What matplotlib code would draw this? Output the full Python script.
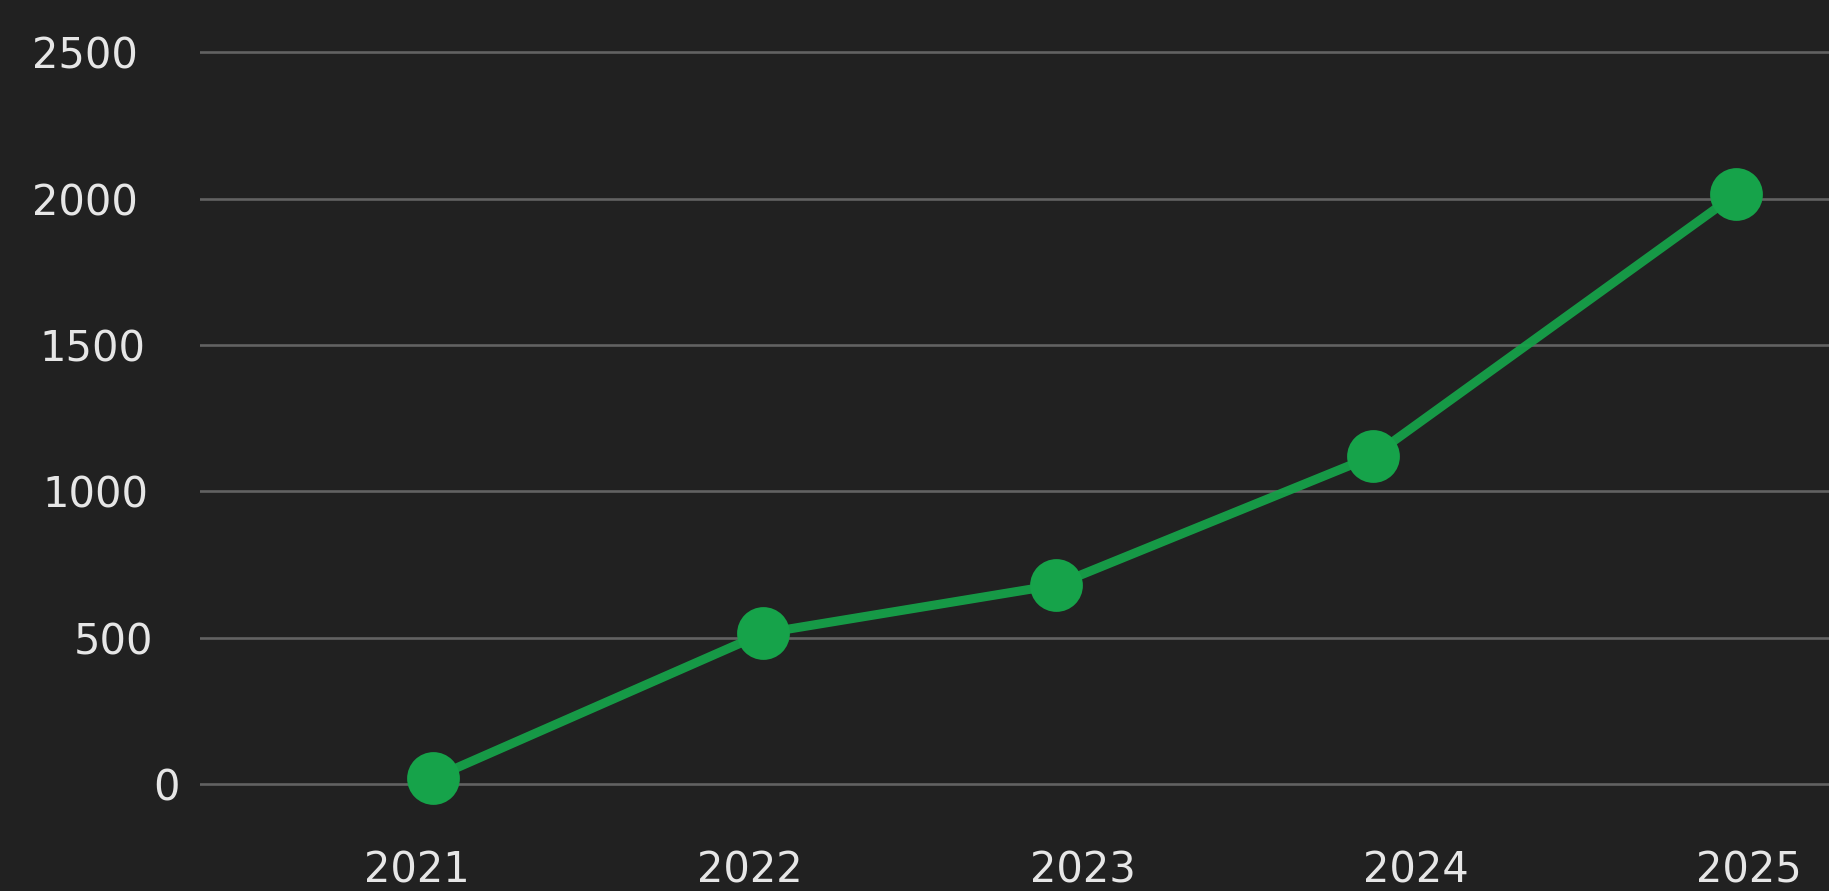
import matplotlib
matplotlib.use('Agg')
import matplotlib.pyplot as plt
from matplotlib.transforms import ScaledTranslation

# data
years = [2021, 2022, 2023, 2024, 2025]
year_labels = ['2021', '2022', '2023', '2024', '2025']
point_x = [2021.05, 2022.04, 2022.92, 2023.87, 2024.96]
values = [20, 515, 680, 1120, 2015]
y_ticks = [0, 500, 1000, 1500, 2000, 2500]
y_labels = ['0', '500', '1000', '1500', '2000', '2500']

bg = '#212121'
green = '#16a34a'
text_col = '#e6e6e6'

fig = plt.figure(figsize=(18.29, 8.91), dpi=100, facecolor=bg)
ax = fig.add_axes([200 / 1829, 71 / 891, 1 - 200 / 1829, 1 - 71 / 891])
ax.set_facecolor(bg)

# grid lines
for y in y_ticks:
    ax.axhline(y, color='#626262', lw=1.9, zorder=1)

ax.plot(point_x, values, color=green, lw=6.5, zorder=3, alpha=0.93,
        solid_capstyle='round')
ax.plot(point_x, values, ls='none', marker='o', markersize=38,
        markerfacecolor=green, markeredgewidth=0, zorder=4)

ax.set_xlim(2020.35, 2025.24)
ax.set_ylim(-123, 2679)
ax.set_xticks(years)
ax.set_xticklabels(year_labels)
ax.set_yticks(y_ticks)
ax.set_yticklabels(y_labels)
ax.tick_params(axis='both', length=0, colors=text_col, labelsize=30)
ax.tick_params(axis='x', pad=21)
ax.tick_params(axis='y', pad=41)
for s in ax.spines.values():
    s.set_visible(False)

# the reference labels drift to the right going down
shifts = [37, 10, 5, 2, -5, -5]
for lab, dx in zip(ax.get_yticklabels(), shifts):
    lab.set_transform(lab.get_transform() + ScaledTranslation(dx / 100, 0, fig.dpi_scale_trans))

fig.savefig('out.png', dpi=100, facecolor=bg)
